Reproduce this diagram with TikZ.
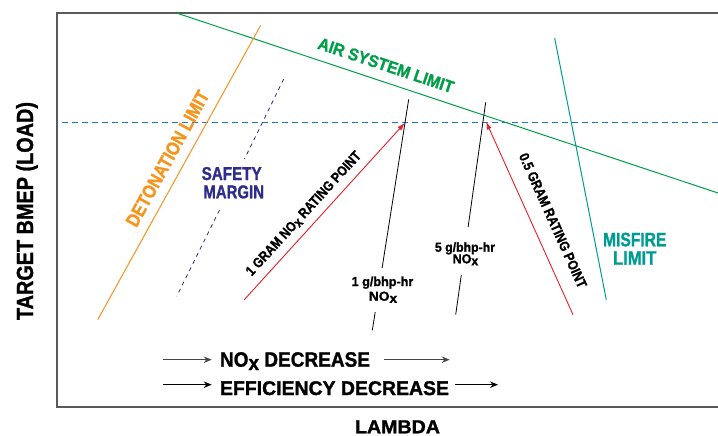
\documentclass[tikz,border=0pt]{standalone}
\usepackage{fontspec}
\setmainfont{Liberation Sans}[BoldFeatures={FakeBold=1.3}]
\usepackage{graphicx}
\usetikzlibrary{arrows.meta}
\definecolor{framecol}{RGB}{88,90,94}
\definecolor{airgreen}{RGB}{0,158,73}
\definecolor{detorange}{RGB}{247,148,29}
\definecolor{safepurple}{RGB}{46,44,140}
\definecolor{misteal}{RGB}{0,156,148}
\definecolor{ratered}{RGB}{232,30,40}
\definecolor{loadblue}{RGB}{30,120,205}
\definecolor{arrgray}{RGB}{70,70,72}
\newcommand\fitt[3]{\resizebox{#1}{\height}{\fontsize{#2}{#2}\selectfont\bfseries #3}}
\newcommand\NOxx{NO\raisebox{-0.16em}{x}}
\tikzset{
  lbl/.style={inner sep=0pt, outer sep=0pt},
  redarrow/.style={ratered, line width=0.9pt, -{Latex[length=8pt,width=5pt]}},
  bigarrow/.style={line width=1pt, -{Stealth[length=8pt,width=6.5pt]}},
  gline/.style={black, line width=0.8pt}
}
\begin{document}
\begin{tikzpicture}[x=1pt,y=-1pt]
\useasboundingbox (0,0) rectangle (718,436);
% frame
\coordinate (ftr) at (718,13);
\coordinate (ftl) at (57,13);
\coordinate (fbl) at (57,406.5);
\coordinate (fbr) at (718,406.5);
\draw[framecol, line width=2pt] (ftr) -- (ftl) -- (fbl) -- (fbr);
% load line
\coordinate (bl1) at (62,122.3);
\coordinate (bl2) at (718,122.3);
\draw[loadblue, line width=1pt, dash pattern=on 6pt off 4pt] (bl1) -- (bl2);
% air system limit
\coordinate (air1) at (176.5,13);
\coordinate (air2) at (718,193);
\draw[airgreen, line width=1pt] (air1) -- (air2);
% detonation limit
\coordinate (det1) at (260.7,25.3);
\coordinate (det2) at (97.7,319.7);
\draw[detorange, line width=1pt] (det1) -- (det2);
% safety margin
\coordinate (sm1) at (283.7,79);
\coordinate (sm2) at (244.5,159);
\coordinate (sm3) at (219.5,210);
\coordinate (sm4) at (176.7,296.3);
\draw[safepurple, line width=0.8pt, dash pattern=on 4pt off 4pt] (sm1) -- (sm2);
\draw[safepurple, line width=0.8pt, dash pattern=on 4pt off 4pt] (sm3) -- (sm4);
% misfire limit
\coordinate (mf1) at (554.7,38.3);
\coordinate (mf2) at (606.3,299.7);
\draw[misteal, line width=1pt] (mf1) -- (mf2);
% constant NOx lines
\coordinate (a1) at (408.7,99.3);
\coordinate (a2) at (382.1,268);
\coordinate (a3) at (375.2,312);
\coordinate (a4) at (372.3,330.3);
\draw[gline] (a1) -- (a2);
\draw[gline] (a3) -- (a4);
\coordinate (b1) at (485.7,102.3);
\coordinate (b2) at (468.1,227);
\coordinate (b3) at (461.3,275);
\coordinate (b4) at (455.7,314.7);
\draw[gline] (b1) -- (b2);
\draw[gline] (b3) -- (b4);
% rating point arrows
\coordinate (r1s) at (244.3,299.7);
\coordinate (r1e) at (405,122.8);
\draw[redarrow] (r1s) -- (r1e);
\coordinate (r2s) at (573,314.7);
\coordinate (r2e) at (486,121.5);
\draw[redarrow] (r2s) -- (r2e);
% bottom arrows
\coordinate (n1) at (163,359.7);
\coordinate (n2) at (211.7,359.7);
\coordinate (n3) at (384,359.7);
\coordinate (n4) at (449.7,359.7);
\draw[bigarrow, arrgray] (n1) -- (n2);
\draw[bigarrow, arrgray] (n3) -- (n4);
\coordinate (e1) at (163,384.7);
\coordinate (e2) at (211.7,384.7);
\coordinate (e3) at (454.7,384.7);
\coordinate (e4) at (498,384.7);
\draw[bigarrow, black] (e1) -- (e2);
\draw[bigarrow, black] (e3) -- (e4);
% labels
\node[lbl, rotate=90, anchor=base] (ylab) at (33,211) {\fitt{218pt}{23.3}{TARGET BMEP (LOAD)}};
\node[lbl, anchor=base] (xlab) at (397.5,433.3) {\fitt{85pt}{18.8}{LAMBDA}};
\node[lbl, anchor=base west] (noxdec) at (220,366.7) {\fitt{150pt}{20.8}{\NOxx{} DECREASE}};
\node[lbl, anchor=base west] (effdec) at (220,395) {\fitt{229pt}{19.8}{EFFICIENCY DECREASE}};
\node[lbl, anchor=base, text=safepurple] (safe1) at (231.7,180) {\fitt{60pt}{18.6}{SAFETY}};
\node[lbl, anchor=base, text=safepurple] (safe2) at (233.7,198.3) {\fitt{60.7pt}{18.6}{MARGIN}};
\node[lbl, anchor=base, text=misteal] (mis1) at (634.7,246.3) {\fitt{63.3pt}{19.5}{MISFIRE}};
\node[lbl, anchor=base, text=misteal] (mis2) at (634.7,264.7) {\fitt{43.3pt}{19.5}{LIMIT}};
\node[lbl, anchor=base] (g1a) at (382.5,286) {\fitt{61.6pt}{13}{1 g/bhp-hr}};
\node[lbl, anchor=base] (g1b) at (383,300.7) {\fitt{28.3pt}{13}{\NOxx}};
\node[lbl, anchor=base] (g5a) at (465,251.7) {\fitt{60pt}{13}{5 g/bhp-hr}};
\node[lbl, anchor=base] (g5b) at (465.5,263.3) {\fitt{25.6pt}{13}{\NOxx}};
\node[lbl, rotate=61.1, text=detorange] (detlab) at (167.5,158.5) {\fitt{152pt}{19}{DETONATION LIMIT}};
\node[lbl, rotate=-18.4, text=airgreen] (airlab) at (386,65.3) {\fitt{142pt}{17}{AIR SYSTEM LIMIT}};
\node[lbl, rotate=47.5] (r1lab) at (304,214) {\fitt{163pt}{14}{1 GRAM \NOxx{} RATING POINT}};
\node[lbl, rotate=-65.8] (r2lab) at (553,220.5) {\fitt{146pt}{14}{0.5 GRAM RATING POINT}};
\end{tikzpicture}
\end{document}
